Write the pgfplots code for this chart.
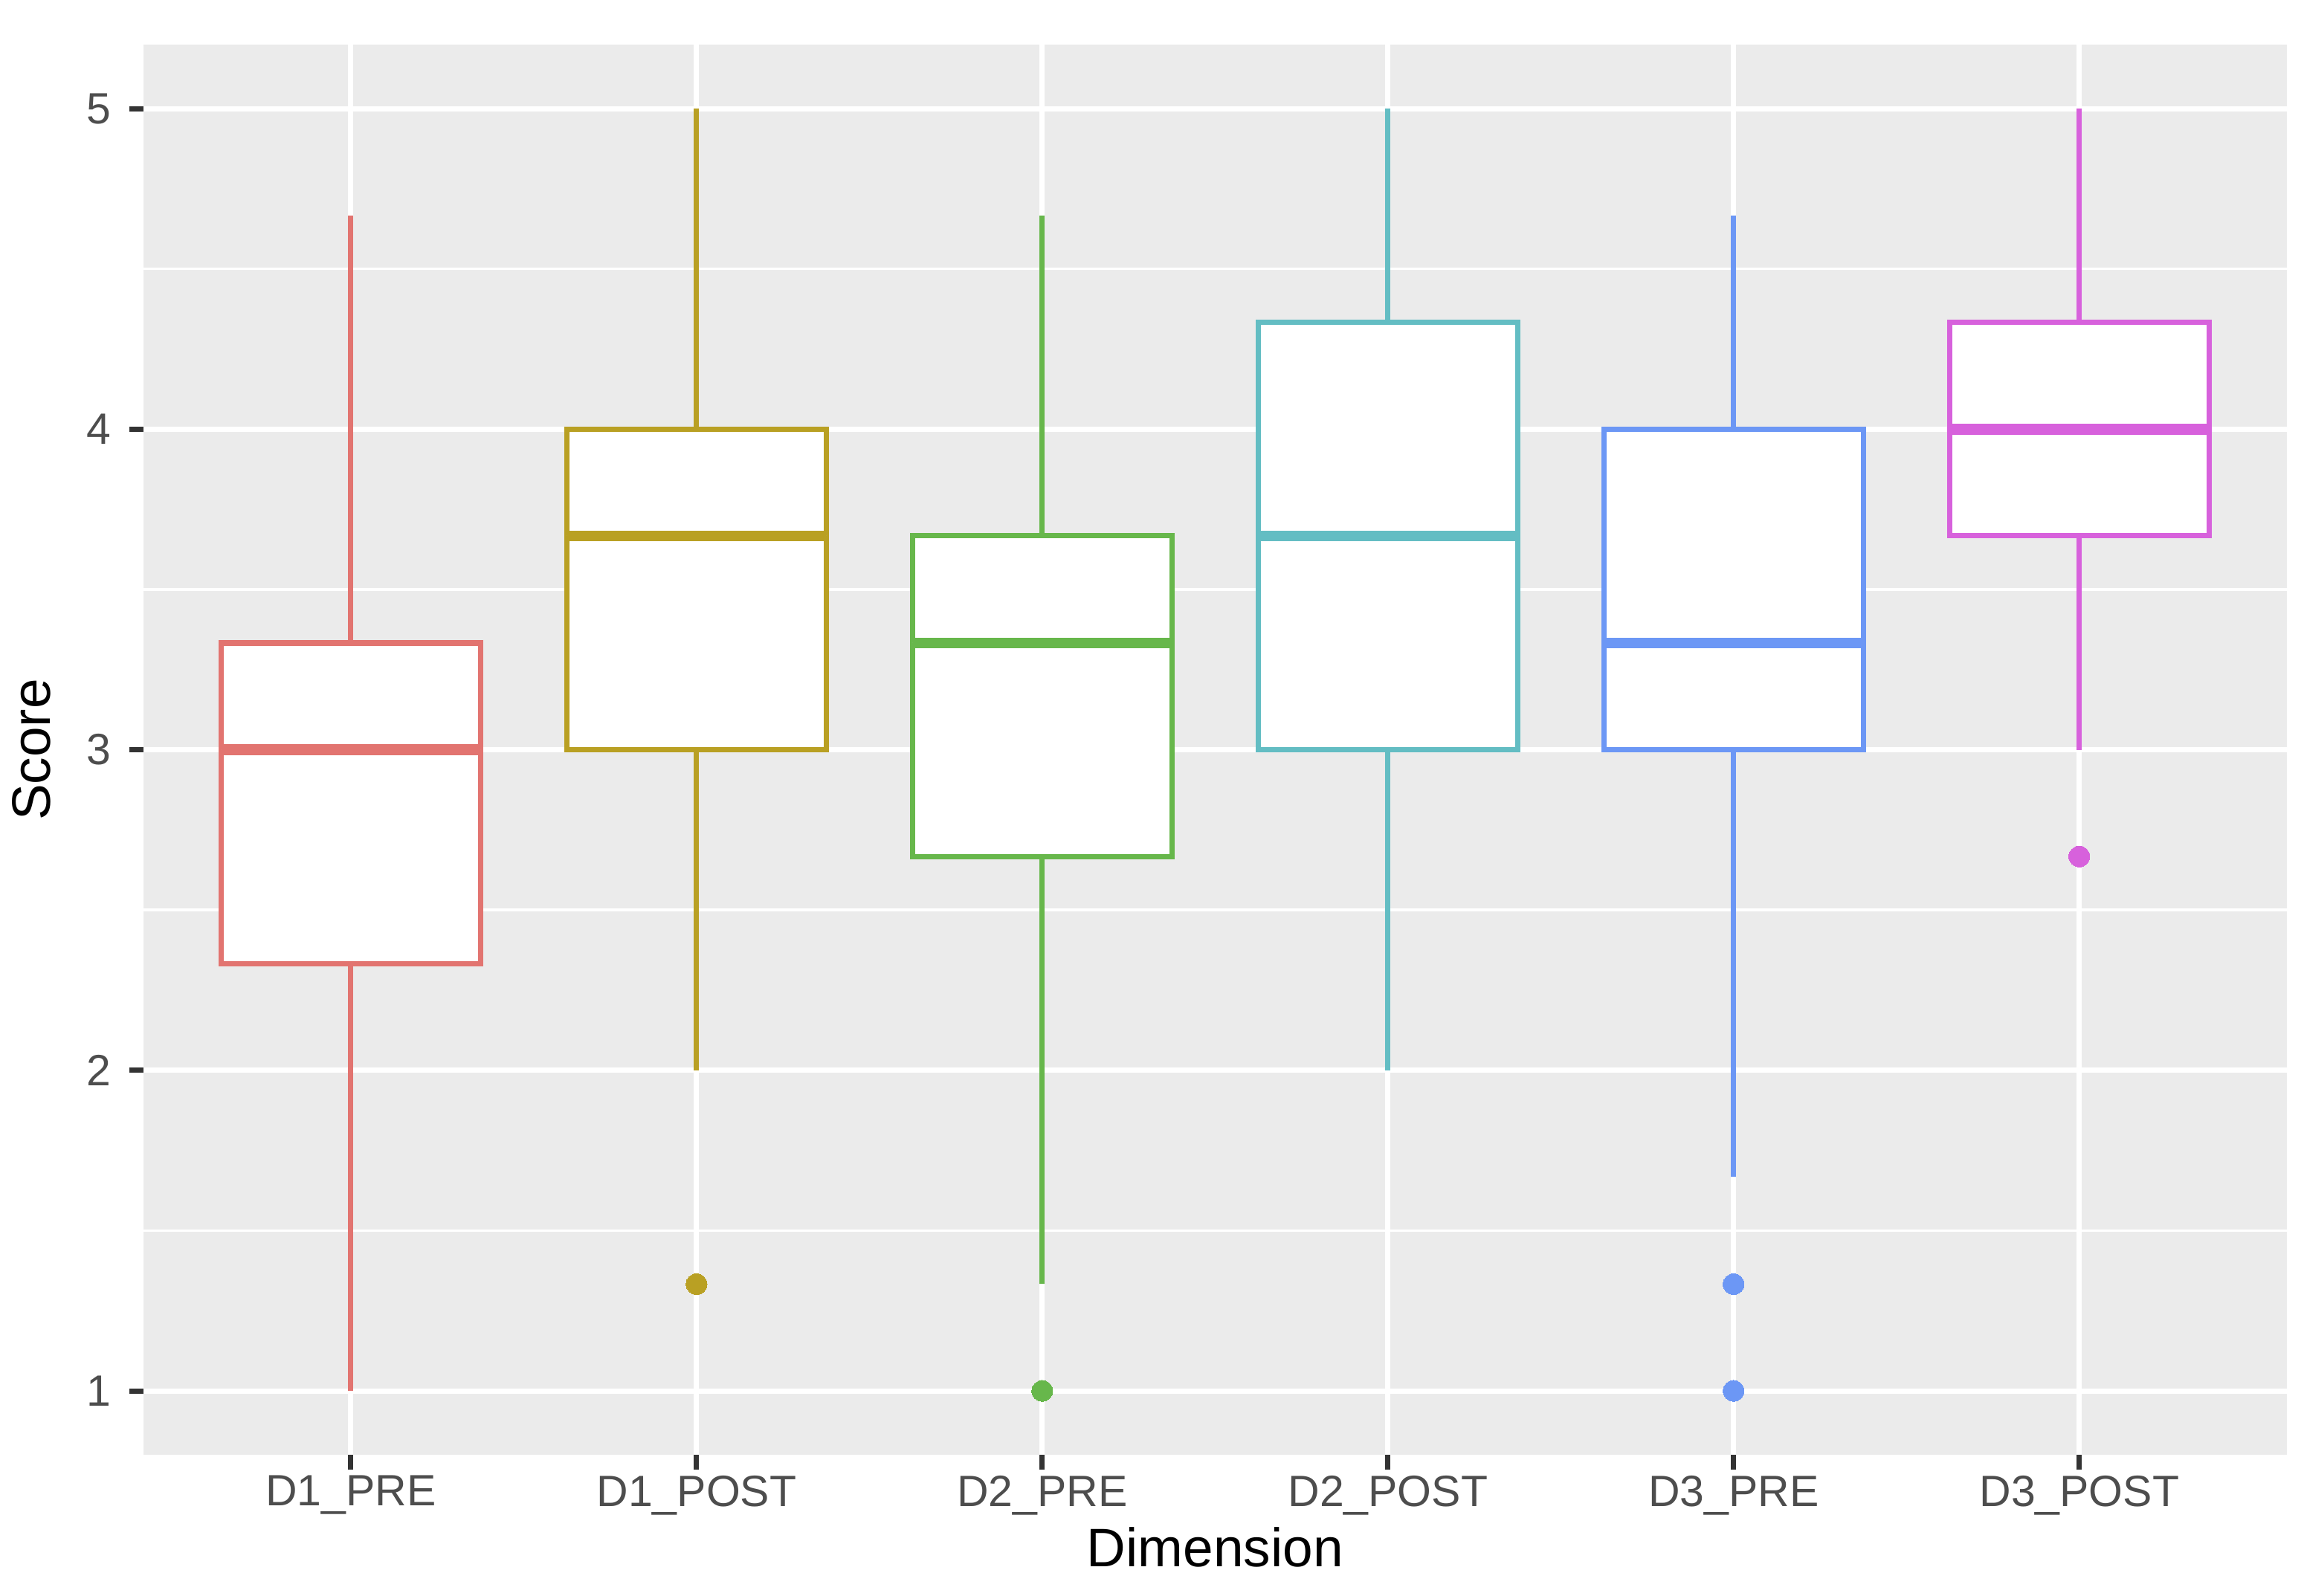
\documentclass[border=0pt]{standalone}
\usepackage{fontspec}
\setmainfont{Liberation Sans}
\usepackage{pgfplots}
\pgfplotsset{compat=1.18}
\usepgfplotslibrary{statistics}

\definecolor{cA}{HTML}{E27470}
\definecolor{cB}{HTML}{B9A023}
\definecolor{cC}{HTML}{67B74B}
\definecolor{cD}{HTML}{63BDC3}
\definecolor{cE}{HTML}{6C97F5}
\definecolor{cF}{HTML}{D761DC}
\definecolor{panelbg}{HTML}{EBEBEB}
\definecolor{ticktext}{HTML}{4D4D4D}
\definecolor{tickmark}{HTML}{333333}

\pgfplotsset{
  gbox/.style={
    draw=#1, fill=white, line width=1bp,
    mark=*, mark size=2bp, mark options={fill=#1, draw=#1, line width=0pt},
    boxplot/draw direction=y,
    boxplot/every box/.style={fill=white},
    boxplot/every median/.style={line width=2.1bp},
    boxplot/box extend=0.75,
    boxplot/whisker extend=0,
  },
}

\begin{document}
\begin{tikzpicture}
\path[use as bounding box] (0,0) rectangle (440bp,304.7bp);
\begin{axis}[
  at={(27.4bp,26.8bp)}, anchor=south west,
  width=409.3bp, height=269.4bp, scale only axis,
  xmin=0.4, xmax=6.6, ymin=0.8, ymax=5.2,
  axis background/.style={fill=panelbg},
  axis line style={draw=none},
  xtick={1,2,3,4,5,6},
  xticklabels={D1\_PRE,D1\_POST,D2\_PRE,D2\_POST,D3\_PRE,D3\_POST},
  ytick={1,2,3,4,5},
  minor ytick={1.5,2.5,3.5,4.5},
  xtick pos=bottom, ytick pos=left,
  tick align=outside,
  major tick length=2.75pt, minor tick length=0pt,
  tick style={tickmark, line width=1bp},
  xmajorgrids, ymajorgrids, yminorgrids,
  major grid style={white, line width=1bp},
  minor grid style={white, line width=0.5bp},
  /pgf/number format/assume math mode=true,
  ticklabel style={font=\fontsize{8.4}{10}\selectfont, text=ticktext},
  xticklabel style={yshift=2.3bp},
  label style={font=\fontsize{10.4}{12}\selectfont},
  xlabel style={yshift=4.5bp},
  xlabel={Dimension},
  ylabel={Score},
]
% D1_PRE
\addplot[gbox=cA, boxplot prepared={draw position=1,
  lower whisker=1, lower quartile=2.333, median=3,
  upper quartile=3.333, upper whisker=4.667}] coordinates {};
% D1_POST
\addplot[gbox=cB, boxplot prepared={draw position=2,
  lower whisker=2, lower quartile=3, median=3.667,
  upper quartile=4, upper whisker=5}]
  table[row sep=\\, y index=0] {v\\ 1.333\\};
% D2_PRE
\addplot[gbox=cC, boxplot prepared={draw position=3,
  lower whisker=1.333, lower quartile=2.667, median=3.333,
  upper quartile=3.667, upper whisker=4.667}]
  table[row sep=\\, y index=0] {v\\ 1\\};
% D2_POST
\addplot[gbox=cD, boxplot prepared={draw position=4,
  lower whisker=2, lower quartile=3, median=3.667,
  upper quartile=4.333, upper whisker=5}] coordinates {};
% D3_PRE
\addplot[gbox=cE, boxplot prepared={draw position=5,
  lower whisker=1.667, lower quartile=3, median=3.333,
  upper quartile=4, upper whisker=4.667}]
  table[row sep=\\, y index=0] {v\\ 1.333\\ 1\\};
% D3_POST
\addplot[gbox=cF, boxplot prepared={draw position=6,
  lower whisker=3, lower quartile=3.667, median=4,
  upper quartile=4.333, upper whisker=5}]
  table[row sep=\\, y index=0] {v\\ 2.667\\};
\end{axis}
\end{tikzpicture}
\end{document}
